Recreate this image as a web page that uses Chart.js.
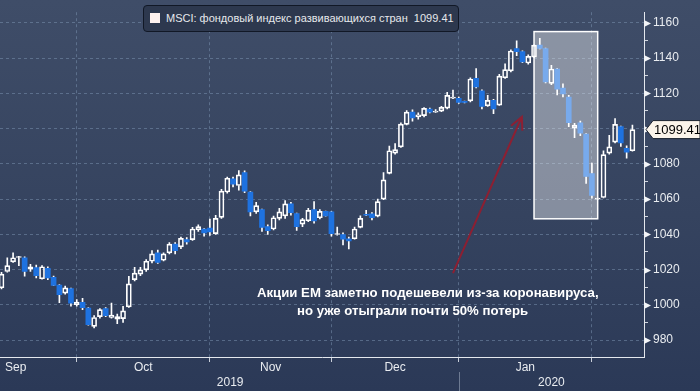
<!DOCTYPE html>
<html>
<head>
<meta charset="utf-8">
<script src="https://cdn.jsdelivr.net/npm/chart.js@4.4.1/dist/chart.umd.min.js"></script>
<style>
  html, body { margin: 0; padding: 0; }
  body {
    width: 700px; height: 391px; overflow: hidden;
    background: linear-gradient(to bottom, #3f4d68 0%, #35435f 55%, #2b3957 100%);
    font-family: "Liberation Sans", Arial, sans-serif;
  }
  #wrap { position: relative; width: 700px; height: 391px; }
  #legend {
    position: absolute; left: 143px; top: 5px; width: 316px; height: 27px;
    box-sizing: border-box; border: 1.5px solid #111826; border-radius: 4px;
    background: #2d384e; color: #e6e8ec; font-size: 11px; line-height: 24px;
    padding-left: 22px; white-space: pre;
  }
  #legend .sq { position: absolute; left: 6px; top: 7px; width: 10px; height: 10px; background: #fdf1ee; }
  .note { position: absolute; color: #ffffff; font-weight: bold; font-size: 13.2px; line-height: 16px; white-space: nowrap; }
</style>
</head>
<body>
<div id="wrap">
  <canvas id="chart"></canvas>
  <div id="legend"><span class="sq"></span>MSCI: фондовый индекс развивающихся стран  1099.41</div>
  <div class="note" style="left:257px; top:285px;">Акции ЕМ заметно подешевели из-за коронавируса,</div>
  <div class="note" style="left:297px; top:303px;">но уже отыграли почти 50% потерь</div>
</div>
<script>
// Daily OHLC, MSCI Emerging Markets, mid-Sep 2019 .. mid-Feb 2020
const open = [
  1009.7, 1018.9, 1024.4, 1026.9, 1026.7, 1020.2, 1021.1, 1014.8, 1020.7, 1015.6,
  1011.2, 1006.6, 1009.2, 1000.1, 1001.4, 998.2, 987.8, 993.3, 997.9, 992.9,
  991.8, 992.2, 998.8, 1014.3, 1017.4, 1019.8, 1024.7, 1029.5, 1025.3, 1029.5,
  1034.4, 1032.9, 1037.0, 1037.0, 1042.6, 1043.0, 1043.6, 1040.4, 1049.6, 1064.0,
  1071.5, 1067.7, 1075.0, 1064.0, 1052.7, 1054.1, 1044.4, 1043.0, 1049.0, 1050.5,
  1057.3, 1051.8, 1045.8, 1047.7, 1054.0, 1049.4, 1053.0, 1052.7, 1039.9, 1039.9,
  1037.5, 1037.5, 1043.9, 1051.4, 1051.6, 1050.3, 1060.0, 1074.6, 1086.1, 1089.6,
  1102.4, 1109.3, 1106.6, 1107.3, 1111.1, 1109.3, 1109.9, 1111.6, 1117.3, 1117.1,
  1115.5, 1115.7, 1128.5, 1121.4, 1112.9, 1116.0, 1113.3, 1128.8, 1132.7, 1145.4,
  1143.6, 1137.2, 1140.5, 1147.3, 1145.4, 1125.6, 1133.8, 1122.9, 1117.9, 1100.2,
  1103.3, 1096.9, 1074.5, 1060.0, 1060.9, 1086.1, 1092.3, 1101.1, 1088.8, 1087.4
];
const high = [
  1018.5, 1026.7, 1029.5, 1027.5, 1027.2, 1022.9, 1022.5, 1022.2, 1021.6, 1016.3,
  1011.5, 1010.7, 1009.5, 1003.0, 1003.7, 998.5, 993.9, 997.9, 998.4, 1001.0,
  994.8, 999.2, 1016.2, 1021.3, 1021.3, 1025.6, 1030.7, 1031.1, 1029.5, 1035.3,
  1035.3, 1038.4, 1038.1, 1043.9, 1045.4, 1043.2, 1048.7, 1050.8, 1065.5, 1072.4,
  1072.4, 1076.1, 1076.0, 1064.3, 1058.1, 1054.3, 1045.4, 1050.3, 1054.8, 1059.1,
  1058.1, 1052.0, 1049.0, 1054.8, 1058.5, 1054.0, 1053.2, 1053.0, 1044.1, 1040.8,
  1038.4, 1044.1, 1050.5, 1053.6, 1052.3, 1060.0, 1075.0, 1090.1, 1091.4, 1103.3,
  1110.2, 1110.6, 1108.9, 1111.9, 1111.6, 1110.7, 1112.6, 1120.6, 1121.8, 1117.9,
  1115.6, 1128.8, 1134.0, 1122.0, 1118.9, 1116.6, 1130.8, 1136.7, 1144.6, 1149.7,
  1144.1, 1141.8, 1147.5, 1151.2, 1145.6, 1135.9, 1134.0, 1125.4, 1118.8, 1103.0,
  1104.2, 1097.2, 1080.4, 1060.6, 1087.4, 1096.2, 1105.6, 1101.4, 1090.2, 1102.0
];
const low = [
  1009.0, 1018.5, 1024.0, 1022.2, 1016.2, 1018.9, 1015.2, 1014.5, 1014.3, 1010.8,
  1001.2, 1006.1, 999.3, 999.3, 997.3, 988.5, 986.9, 992.4, 993.3, 992.4,
  989.3, 990.0, 998.5, 1013.5, 1016.5, 1018.9, 1023.8, 1023.5, 1024.9, 1028.9,
  1028.9, 1031.8, 1034.4, 1036.6, 1041.7, 1039.0, 1039.3, 1039.9, 1049.0, 1063.3,
  1066.9, 1065.0, 1063.6, 1050.5, 1051.8, 1041.7, 1039.9, 1042.5, 1048.1, 1049.0,
  1050.8, 1042.2, 1044.4, 1047.2, 1046.3, 1048.7, 1050.3, 1039.0, 1039.5, 1034.0,
  1031.7, 1037.2, 1043.6, 1050.6, 1048.1, 1049.9, 1059.6, 1074.3, 1085.5, 1089.3,
  1102.0, 1104.2, 1105.3, 1106.6, 1108.9, 1109.2, 1109.6, 1111.1, 1117.0, 1114.2,
  1114.6, 1115.1, 1123.0, 1111.1, 1112.5, 1108.4, 1113.1, 1128.5, 1132.1, 1141.3,
  1137.4, 1136.5, 1140.3, 1145.2, 1125.9, 1124.9, 1119.1, 1117.9, 1101.1, 1094.8,
  1095.9, 1068.9, 1060.5, 1059.8, 1060.6, 1085.5, 1091.9, 1089.9, 1083.2, 1087.1
];
const close = [
  1017.4, 1022.2, 1026.7, 1027.3, 1018.9, 1021.6, 1016.5, 1021.6, 1015.2, 1011.0,
  1005.8, 1009.6, 1001.0, 1001.5, 998.4, 988.8, 992.8, 997.3, 993.9, 994.2,
  993.3, 996.6, 1011.9, 1018.0, 1019.8, 1024.7, 1028.9, 1024.0, 1028.9, 1034.4,
  1030.7, 1037.7, 1035.7, 1043.0, 1044.4, 1040.8, 1041.4, 1049.0, 1064.5, 1071.8,
  1068.5, 1073.7, 1064.5, 1052.7, 1056.3, 1043.9, 1042.1, 1049.4, 1052.7, 1057.3,
  1052.3, 1044.4, 1048.3, 1053.6, 1047.6, 1053.0, 1050.5, 1040.3, 1040.4, 1037.2,
  1036.2, 1043.0, 1049.0, 1050.8, 1049.4, 1058.5, 1070.9, 1087.4, 1088.0, 1102.5,
  1109.3, 1106.0, 1107.8, 1111.4, 1109.3, 1109.9, 1112.0, 1118.8, 1117.9, 1114.8,
  1114.8, 1128.1, 1123.6, 1112.5, 1116.0, 1111.1, 1129.7, 1133.4, 1144.0, 1143.6,
  1137.8, 1140.9, 1147.3, 1145.4, 1126.4, 1133.8, 1122.3, 1119.6, 1103.3, 1101.9,
  1097.4, 1072.8, 1062.1, 1060.5, 1085.2, 1089.6, 1102.4, 1091.9, 1086.6, 1099.41
];
const lastValue = 1099.41;

// month boundaries (trading-day index) and labels
const monthStarts = [13, 36, 57, 79, 102];
const monthLabels = ['Sep', 'Oct', 'Nov', 'Dec', 'Jan'];
const yearLabels = ['2019', '2020'];
const yearBreak = 79;

// highlighted sell-off window and arrow
const boxFrom = 92, boxTo = 103, boxHigh = 1155, boxLow = 1048.8;
const arrowFrom = [78, 1018], arrowTo = [89.9, 1106.7];

const xMin = -0.26, xMax = 111;
const yMin = 970.4, yMax = 1166;

const blue = '#1e72e0';
const gridColor = 'rgba(125,150,180,0.5)';
const axisText = '#e9ecf0';

const idx = open.map((_, i) => i);
const isUp = idx.map(i => close[i] >= open[i]);

const upperWick = idx.map(i => ({ x: i, y: [Math.max(open[i], close[i]), high[i]] }));
const lowerWick = idx.map(i => ({ x: i, y: [low[i], Math.min(open[i], close[i])] }));
const bodies = idx.map(i => ({ x: i, y: [open[i], close[i]] }));

const overlay = {
  id: 'overlay',
  afterDatasetsDraw(chart) {
    const { ctx, scales: { x, y } } = chart;
    const x0 = x.getPixelForValue(boxFrom), x1 = x.getPixelForValue(boxTo);
    const y0 = y.getPixelForValue(boxHigh), y1 = y.getPixelForValue(boxLow);
    ctx.save();
    ctx.fillStyle = 'rgba(255,255,255,0.4)';
    ctx.fillRect(x0, y0, x1 - x0, y1 - y0);
    ctx.strokeStyle = '#ffffff';
    ctx.lineWidth = 1.5;
    ctx.strokeRect(x0, y0, x1 - x0, y1 - y0);

    // arrow
    const ax0 = x.getPixelForValue(arrowFrom[0]), ay0 = y.getPixelForValue(arrowFrom[1]);
    const ax1 = x.getPixelForValue(arrowTo[0]), ay1 = y.getPixelForValue(arrowTo[1]);
    const ang = Math.atan2(ay1 - ay0, ax1 - ax0);
    ctx.strokeStyle = 'rgba(150,28,45,0.9)';
    ctx.lineWidth = 2;
    ctx.beginPath();
    ctx.moveTo(ax0, ay0);
    ctx.lineTo(ax1, ay1);
    ctx.moveTo(ax1 - 14 * Math.cos(ang - 0.45), ay1 - 14 * Math.sin(ang - 0.45));
    ctx.lineTo(ax1, ay1);
    ctx.lineTo(ax1 - 14 * Math.cos(ang + 0.45), ay1 - 14 * Math.sin(ang + 0.45));
    ctx.stroke();
    ctx.restore();
  },
  afterDraw(chart) {
    const { ctx, chartArea, scales: { x, y } } = chart;
    ctx.save();
    // tick triangles on the price axis
    ctx.fillStyle = '#f2f4f7';
    y.ticks.forEach(t => {
      if (t.value % 20 !== 0) return;
      const py = Math.round(y.getPixelForValue(t.value)) + 0.5;
      ctx.beginPath();
      ctx.moveTo(chartArea.right, py - 3.5);
      ctx.lineTo(chartArea.right + 7, py);
      ctx.lineTo(chartArea.right, py + 3.5);
      ctx.closePath();
      ctx.fill();
    });

    // last price tag
    const ty = y.getPixelForValue(lastValue);
    ctx.beginPath();
    ctx.moveTo(chartArea.right + 2, ty);
    ctx.lineTo(chartArea.right + 9, ty - 9);
    ctx.lineTo(700, ty - 9);
    ctx.lineTo(700, ty + 9);
    ctx.lineTo(chartArea.right + 9, ty + 9);
    ctx.closePath();
    ctx.fillStyle = '#fbf4ea';
    ctx.fill();
    ctx.strokeStyle = '#1c2330';
    ctx.lineWidth = 1;
    ctx.stroke();
    ctx.fillStyle = '#000000';
    ctx.font = '13px "Liberation Sans", Arial, sans-serif';
    ctx.textBaseline = 'middle';
    ctx.textAlign = 'left';
    ctx.fillText(lastValue.toFixed(2), chartArea.right + 10, ty + 1);

    // month and year labels
    ctx.fillStyle = axisText;
    ctx.font = '12px "Liberation Sans", Arial, sans-serif';
    const my = chartArea.bottom + 11, yy = chartArea.bottom + 26;
    ctx.textAlign = 'left';
    ctx.fillText(monthLabels[0], 5, my);
    ctx.textAlign = 'center';
    for (let m = 1; m < monthLabels.length; m++) {
      const mid = (monthStarts[m - 1] + monthStarts[m]) / 2;
      ctx.fillText(monthLabels[m], x.getPixelForValue(mid), my);
    }
    ctx.fillText(yearLabels[0], x.getPixelForValue((0 + yearBreak) / 2), yy);
    ctx.fillText(yearLabels[1], x.getPixelForValue((yearBreak + xMax) / 2), yy);
    const bx = Math.round(x.getPixelForValue(yearBreak)) + 0.5;
    ctx.strokeStyle = '#6d7a92';
    ctx.beginPath();
    ctx.moveTo(bx, chartArea.bottom + 15);
    ctx.lineTo(bx, 391);
    ctx.stroke();
    ctx.restore();
  }
};

new Chart(document.getElementById('chart'), {
  type: 'bar',
  data: {
    datasets: [
      {
        data: bodies,
        grouped: false,
        barThickness: 5,
        backgroundColor: idx.map(i => isUp[i] ? 'rgba(0,0,0,0)' : blue),
        borderColor: idx.map(i => isUp[i] ? '#ffffff' : blue),
        borderWidth: idx.map(i => isUp[i] ? 1 : 0),
        borderSkipped: false
      },
      {
        data: upperWick,
        grouped: false,
        barThickness: 1,
        backgroundColor: '#ffffff',
        borderWidth: 0
      },
      {
        data: lowerWick,
        grouped: false,
        barThickness: 1,
        backgroundColor: '#ffffff',
        borderWidth: 0
      }
    ]
  },
  options: {
    responsive: true,
    maintainAspectRatio: false,
    animation: false,
    layout: { padding: 0 },
    plugins: { legend: { display: false }, tooltip: { enabled: false } },
    scales: {
      x: {
        type: 'linear',
        offset: false,
        min: xMin,
        max: xMax,
        afterBuildTicks: s => { s.ticks = monthStarts.map(v => ({ value: v })); },
        afterFit: s => { s.height = 34; },
        ticks: { display: false },
        grid: { offset: false, color: gridColor, tickColor: '#c8ced8', tickLength: 5 },
        border: { color: '#e4e8ee', width: 1, dash: [3, 3] }
      },
      y: {
        position: 'right',
        min: yMin,
        max: yMax,
        afterFit: s => { s.width = 56; },
        ticks: {
          stepSize: 10,
          includeBounds: false,
          color: axisText,
          padding: 5,
          font: { size: 12, family: '"Liberation Sans", Arial, sans-serif' },
          callback: v => (v % 20 === 0 ? v : '')
        },
        grid: {
          color: c => (c.tick && c.tick.value % 20 === 0) ? gridColor : 'rgba(0,0,0,0)',
          tickColor: c => (c.tick && c.tick.value % 20 === 0) ? 'rgba(0,0,0,0)' : '#d0d5de',
          tickLength: 4
        },
        border: { color: '#e4e8ee', width: 1, dash: [3, 3] }
      }
    }
  },
  plugins: [overlay]
});
</script>
</body>
</html>
